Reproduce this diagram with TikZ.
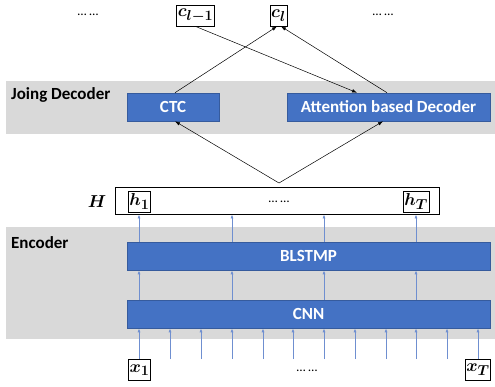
\documentclass[tikz,border=0pt]{standalone}
\usepackage{amsmath}
\usepackage{fontspec}
\setmainfont{Carlito}
\DeclareMathSizes{17.28}{17.28}{14.4}{12}
\usetikzlibrary{arrows.meta}
\definecolor{bandgray}{HTML}{D9D9D9}
\definecolor{blockblue}{HTML}{4472C4}
\definecolor{arrowblue}{HTML}{6F8FD0}
\begin{document}
\begin{tikzpicture}[x=1pt, y=-1pt]
        \useasboundingbox (0,0) rectangle (495,386);
        % grey bands
        \fill[bandgray] (6,81) rectangle (495,134);
        \fill[bandgray] (6,227) rectangle (495,339);
        \begin{scope}
            \tikzstyle{every node}=[font=\bfseries\fontsize{17}{20}\selectfont, text=black, anchor=west, inner sep=0pt]
            \node (declabel) at (11,95) {Joing Decoder};
            \node (enclabel) at (11,243) {Encoder};
        \end{scope}
        \begin{scope}
            \tikzstyle{every node}=[fill=blockblue, draw=blockblue!80!black, line width=0.6pt, text=white, font=\bfseries\fontsize{17}{20}\selectfont, minimum height=28pt, inner sep=0pt]
            \node[minimum width=92pt] (ctc) at (173,107) {CTC};
            \node[minimum width=203pt] (att) at (388.5,107) {Attention based Decoder};
            \node[minimum width=363pt] (blstmp) at (308.5,256) {BLSTMP};
            \node[minimum width=363pt] (cnn) at (308.5,314) {CNN};
        \end{scope}
        \node[draw=black, thick, fill=white, minimum width=324pt, minimum height=27pt, inner sep=0pt] (hbox) at (277,200.5) {};
        \begin{scope}
            \tikzstyle{every node}=[draw=black, thick, fill=white, inner sep=1.2pt, minimum height=21pt, font=\fontsize{17.28}{19}\selectfont]
            \node (cprev) at (195.5,15.5) {$\boldsymbol{c_{l-1}}$};
            \node (ccur) at (278.5,15.5) {$\boldsymbol{c_{l}}$};
            \node (h1) at (139.5,201.5) {$\boldsymbol{h_{1}}$};
            \node (hT) at (416,201.5) {$\boldsymbol{h_{T}}$};
            \node (x1) at (139.5,370) {$\boldsymbol{x_{1}}$};
            \node (xT) at (478,370) {$\boldsymbol{x_{T}}$};
        \end{scope}
        \begin{scope}
            \tikzstyle{every node}=[font=\fontsize{13}{15}\selectfont, inner sep=0pt]
            \node (dotsl) at (88,15) {… …};
            \node (dotsr) at (383,15) {… …};
            \node (dotsh) at (279,202) {… …};
            \node (dotsx) at (307,371) {… …};
            \node[font=\fontsize{17.28}{19}\selectfont] (hlabel) at (97,202) {$\boldsymbol{H}$};
        \end{scope}
        \coordinate (apex) at (279,183);
        \begin{scope}
            \tikzstyle{every edge}=[draw, line width=0.5pt, -{Latex[length=5pt,width=3.5pt]}]
            \path
            (cprev.south) edge ([xshift=-31.5pt]att.north)
            ([xshift=2pt]ctc.north) edge ([xshift=-1.5pt]ccur.south)
            ([xshift=-1.5pt]att.north) edge ([xshift=2.5pt]ccur.south)
            (apex) edge ([xshift=2pt]ctc.south)
            (apex) edge ([xshift=-5.5pt]att.south)
            ;
        \end{scope}
        \begin{scope}
            \tikzstyle{every edge}=[draw=arrowblue, line width=0.8pt, -{Latex[length=4pt,width=3pt]}]
            \foreach \px in {139,232,324,416} {
                \path (cnn.north -| \px,0) edge (blstmp.south -| \px,0);
                \path (blstmp.north -| \px,0) edge (hbox.south -| \px,0);
            }
            \foreach \px in {139,170,201,232,263,293,324,355,386,416,447,478} {
                \coordinate (in\px) at (\px,359);
                \path (in\px) edge (cnn.south -| in\px);
            }
        \end{scope}
    \end{tikzpicture}
\end{document}
